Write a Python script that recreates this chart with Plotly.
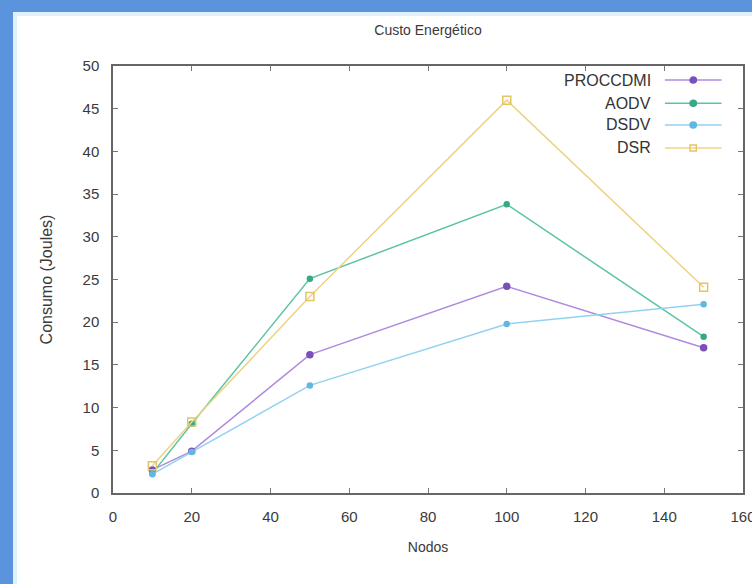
import plotly.graph_objects as go

nodos = [10, 20, 50, 100, 150]
proccdmi = [2.7, 4.9, 16.2, 24.2, 17.0]
aodv = [2.3, 8.1, 25.1, 33.8, 18.3]
dsdv = [2.2, 4.8, 12.6, 19.8, 22.1]
dsr = [3.2, 8.3, 23.0, 46.0, 24.1]

series_names = ["PROCCDMI", "AODV", "DSDV", "DSR"]
series_values = [proccdmi, aodv, dsdv, dsr]
line_colors = ["#b08ade", "#5cc4a4", "#92d2f0", "#ecd484"]
marker_colors = ["#7a50b8", "#38a888", "#62b6e2", "#e4c464"]
marker_symbols = ["circle", "circle", "circle", "square-open"]
marker_sizes = [6, 5, 5, 8]

x_ticks = [0, 20, 40, 60, 80, 100, 120, 140, 160]
y_ticks = [0, 5, 10, 15, 20, 25, 30, 35, 40, 45, 50]

fig = go.Figure()
for name, vals, lc, mc, sym, sz in zip(series_names, series_values, line_colors,
                                       marker_colors, marker_symbols, marker_sizes):
    fig.add_trace(go.Scatter(
        x=nodos, y=vals, name=name, mode="lines+markers",
        line=dict(color=lc, width=1.5),
        marker=dict(color=mc, symbol=sym, size=sz, line=dict(color=mc, width=1.5)),
        showlegend=False,
    ))

font = "Liberation Sans, Arial, sans-serif"
txt = "#3a3a3a"

axis_common = dict(
    showgrid=False, zeroline=False, showline=True, linecolor="#666666", linewidth=1.5,
    mirror="ticks", ticks="inside", ticklen=5, tickcolor="#777777", tickwidth=1,
    tickfont=dict(family=font, size=15, color=txt), ticklabelstandoff=9,
    automargin=False, ticklabeloverflow="allow",
)

fig.update_layout(
    width=752, height=584,
    margin=dict(l=113, r=9, t=66, b=91),
    paper_bgcolor="white", plot_bgcolor="white",
    title=dict(text="Custo Energético", xref="paper", x=0.5,
               y=1 - 30/584, yanchor="middle",
               font=dict(family=font, size=14, color=txt)),
    xaxis=dict(range=[0, 160], tickvals=x_ticks,
               title=dict(text="Nodos", font=dict(family=font, size=14, color=txt), standoff=18),
               **axis_common),
    yaxis=dict(range=[0, 50], tickvals=y_ticks,
               title=dict(text="Consumo (Joules)", font=dict(family=font, size=16, color=txt), standoff=26),
               **axis_common),
    showlegend=False,
)

# manual gnuplot-style legend (text left, sample right)
rows_y = [0.967, 0.913, 0.862, 0.808]
shapes = []
annotations = []
for name, lc, mc, sym, yy in zip(series_names, line_colors, marker_colors, marker_symbols, rows_y):
    annotations.append(dict(text=name, xref="paper", yref="paper", x=0.857, y=yy,
                            xanchor="right", yanchor="middle", showarrow=False,
                            font=dict(family=font, size=16, color="#333333")))
    shapes.append(dict(type="line", xref="paper", yref="paper", x0=0.876, x1=0.966,
                       y0=yy, y1=yy, line=dict(color=lc, width=1.5)))
    shapes.append(dict(type="rect" if sym.startswith("square") else "circle",
                       xref="paper", yref="paper",
                       x0=0.921 - 0.005, x1=0.921 + 0.005, y0=yy - 0.007, y1=yy + 0.007,
                       line=dict(color=mc, width=1.5),
                       fillcolor="rgba(0,0,0,0)" if sym.endswith("open") else mc))

# window frame decoration (blue borders)
shapes.append(dict(type="rect", xref="paper", yref="paper", x0=-113/630, x1=1+9/630,
                   y0=1 + 66/427 - 12/427, y1=1 + 66/427, fillcolor="#5b94dc",
                   line=dict(width=0), layer="above"))
shapes.append(dict(type="rect", xref="paper", yref="paper", x0=-113/630, x1=-113/630 + 13/630,
                   y0=-91/427, y1=1 + 66/427, fillcolor="#5b94dc",
                   line=dict(width=0), layer="above"))
shapes.append(dict(type="rect", xref="paper", yref="paper", x0=-100/630, x1=-100/630 + 4/630,
                   y0=-91/427, y1=1 + 66/427 - 12/427, fillcolor="#dff2fb",
                   line=dict(width=0), layer="above"))
shapes.append(dict(type="rect", xref="paper", yref="paper", x0=-100/630, x1=1 + 9/630,
                   y0=1 + 66/427 - 16/427, y1=1 + 66/427 - 12/427, fillcolor="#dff2fb",
                   line=dict(width=0), layer="above"))

fig.update_layout(shapes=shapes, annotations=annotations)
fig.write_html("out.html")
